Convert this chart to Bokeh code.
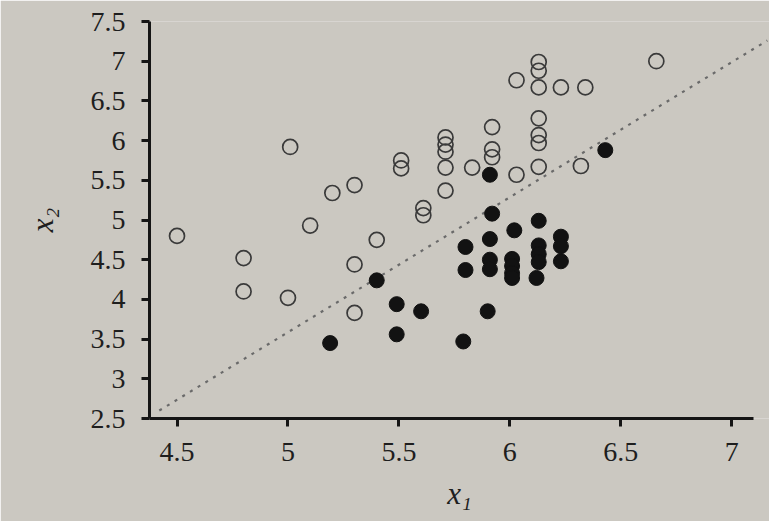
from bokeh.plotting import figure
from bokeh.models import FixedTicker, Range1d
from bokeh.embed import file_html
from bokeh.resources import INLINE

# ---- data ----
open_x1 = [5.01, 4.50, 5.10, 5.20, 5.30, 5.40, 5.51, 5.51, 5.61, 5.61,
           5.71, 5.71, 5.71, 5.71, 5.71, 5.83, 5.92, 5.92, 5.92, 6.03, 6.03,
           6.13, 6.13, 6.13, 6.13, 6.13, 6.13, 6.13, 6.23, 6.34, 6.66, 6.32,
           4.80, 4.80, 5.00, 5.30, 5.30]
open_x2 = [5.92, 4.80, 4.93, 5.34, 5.44, 4.75, 5.75, 5.65, 5.15, 5.06,
           6.04, 5.95, 5.86, 5.66, 5.37, 5.66, 6.17, 5.89, 5.79, 6.76, 5.57,
           6.99, 6.88, 6.67, 6.28, 6.07, 5.97, 5.67, 6.67, 6.67, 7.00, 5.68,
           4.52, 4.10, 4.02, 4.44, 3.83]

filled_x1 = [6.43, 5.91, 5.92, 6.13, 6.02, 5.91, 5.80, 6.23, 6.23,
             6.13, 6.13, 6.13, 6.23, 5.91, 5.91, 5.80,
             6.01, 6.01, 6.01, 6.01, 6.12, 5.90, 5.79, 5.60,
             5.40, 5.49, 5.49, 5.19]
filled_x2 = [5.88, 5.57, 5.08, 4.99, 4.87, 4.76, 4.66, 4.79, 4.67,
             4.68, 4.57, 4.47, 4.48, 4.50, 4.38, 4.37,
             4.51, 4.42, 4.33, 4.27, 4.27, 3.85, 3.47, 3.85,
             4.24, 3.94, 3.56, 3.45]

boundary_x1 = [4.42, 7.16]
boundary_x2 = [2.60, 7.26]

x_ticks = [4.5, 5.0, 5.5, 6.0, 6.5, 7.0]
x_tick_labels = ["4.5", "5", "5.5", "6", "6.5", "7"]
y_ticks = [2.5, 3.0, 3.5, 4.0, 4.5, 5.0, 5.5, 6.0, 6.5, 7.0, 7.5]
y_tick_labels = ["2.5", "3", "3.5", "4", "4.5", "5", "5.5", "6", "6.5", "7", "7.5"]

BG = "#cbc8c1"
FONT = "'Liberation Serif', 'Times New Roman', Times, serif"

p = figure(width=769, height=521, output_backend="svg", toolbar_location=None,
           x_range=Range1d(4.376, 7.17), y_range=Range1d(2.5, 7.5),
           min_border_left=149, min_border_right=0, min_border_top=21,
           min_border_bottom=103)
p.background_fill_color = BG
p.border_fill_color = BG
p.outline_line_color = None
p.xgrid.visible = False
p.ygrid.visible = False

p.line(boundary_x1, boundary_x2, line_color="#6a6a6a", line_width=2.2,
       line_dash="3 6")
p.scatter(open_x1, open_x2, marker="circle", size=15, fill_color=None,
          line_color="#3a3a3a", line_width=1.7)
p.scatter(filled_x1, filled_x2, marker="circle", size=15, fill_color="#121212",
          line_color="#121212", line_width=1)

for ax, ticks, labels in ((p.xaxis[0], x_ticks, x_tick_labels),
                          (p.yaxis[0], y_ticks, y_tick_labels)):
    ax.ticker = FixedTicker(ticks=ticks)
    ax.major_label_overrides = {t: l for t, l in zip(ticks, labels)}
    ax.minor_tick_line_color = None
    ax.axis_line_width = 3
    ax.axis_line_color = "#151515"
    ax.major_tick_line_width = 3
    ax.major_tick_line_color = "#151515"
    ax.major_tick_out = 8
    ax.major_tick_in = 0
    ax.major_label_text_font = FONT
    ax.major_label_text_font_size = "28px"
    ax.major_label_text_color = "#1e1e1e"
    ax.axis_label_text_font = FONT
    ax.axis_label_text_font_style = "italic"
    ax.axis_label_text_font_size = "31px"
    ax.axis_label_text_color = "#1e1e1e"

p.xaxis[0].bounds = (4.376, 7.10)
p.xaxis[0].major_label_standoff = 16
p.xaxis[0].axis_label = "x₁"
p.xaxis[0].axis_label_standoff = 12
p.yaxis[0].major_label_standoff = 16
p.yaxis[0].axis_label = "x₂"
p.yaxis[0].axis_label_standoff = 28

open("out.html", "w").write(file_html(p, INLINE))
